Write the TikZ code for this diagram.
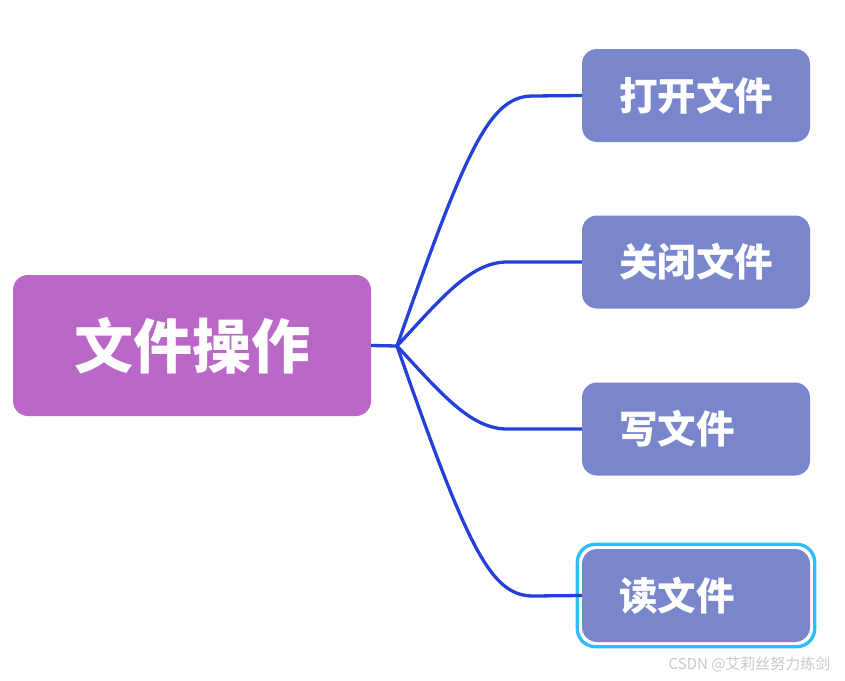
\documentclass[tikz,border=0pt]{standalone}
\usepackage{fontspec}
\newfontfamily\cjk{Noto Sans CJK SC}
\usetikzlibrary{positioning, fit}
\definecolor{rootpurple}{HTML}{BA68C8}
\definecolor{leafblue}{HTML}{7986CB}
\definecolor{branchblue}{HTML}{2440D8}
\definecolor{selcyan}{HTML}{2EBDF5}
\definecolor{markgray}{HTML}{C8C8C8}
\tikzset{
    root/.style={
        rectangle, rounded corners=15pt, fill=rootpurple, text=white,
        minimum width=358pt, minimum height=141pt, inner sep=0pt,
        font=\cjk\bfseries\fontsize{59}{59}\selectfont
    },
    leaf/.style={
        rectangle, rounded corners=15pt, fill=leafblue, text=white,
        text width=154pt, inner xsep=37pt, inner ysep=0pt,
        minimum height=93pt, align=left,
        font=\cjk\bfseries\fontsize{38.5}{38.5}\selectfont
    },
    branch/.style={
        branchblue, line width=3.3pt
    },
    selected/.style={
        rectangle, rounded corners=18pt, draw=selcyan, line width=3.3pt, inner sep=4.5pt
    }
}
\begin{document}
\begin{tikzpicture}[x=1pt, y=-1pt]

    % Page frame
    \useasboundingbox (0,0) rectangle (845,680);

    % Central topic
    \node[root] (fileops) at (192,345.5) {文件操作};
    \coordinate (hub) at (397,346);

    % Sub topics
    \node[leaf] (open) at (696,95.5) {打开文件};
    \node[leaf] (close) at (696,262) {关闭文件};
    \node[leaf] (write) at (696,429) {写文件};
    \node[leaf] (read) at (696,595.5) {读文件};

    % Selection frame
    \node[selected, fit=(read)] (readsel) {};

    % Branches
    \draw[branch] (fileops.east) -- (hub);
    \draw[branch] (hub) .. controls (467,146) and (490,96) .. (533,96) -- (open.west);
    \draw[branch] (hub) .. controls (440,300) and (470,262) .. (507,262) -- (close.west);
    \draw[branch] (hub) .. controls (440,392) and (470,429) .. (507,429) -- (write.west);
    \draw[branch] (hub) .. controls (467,546) and (490,596) .. (533,596) -- (read.west);

    % Watermark
    \node[text=markgray, anchor=east, font=\cjk\fontsize{15}{15}\selectfont] (mark) at (834,664) {CSDN @艾莉丝努力练剑};

\end{tikzpicture}
\end{document}
